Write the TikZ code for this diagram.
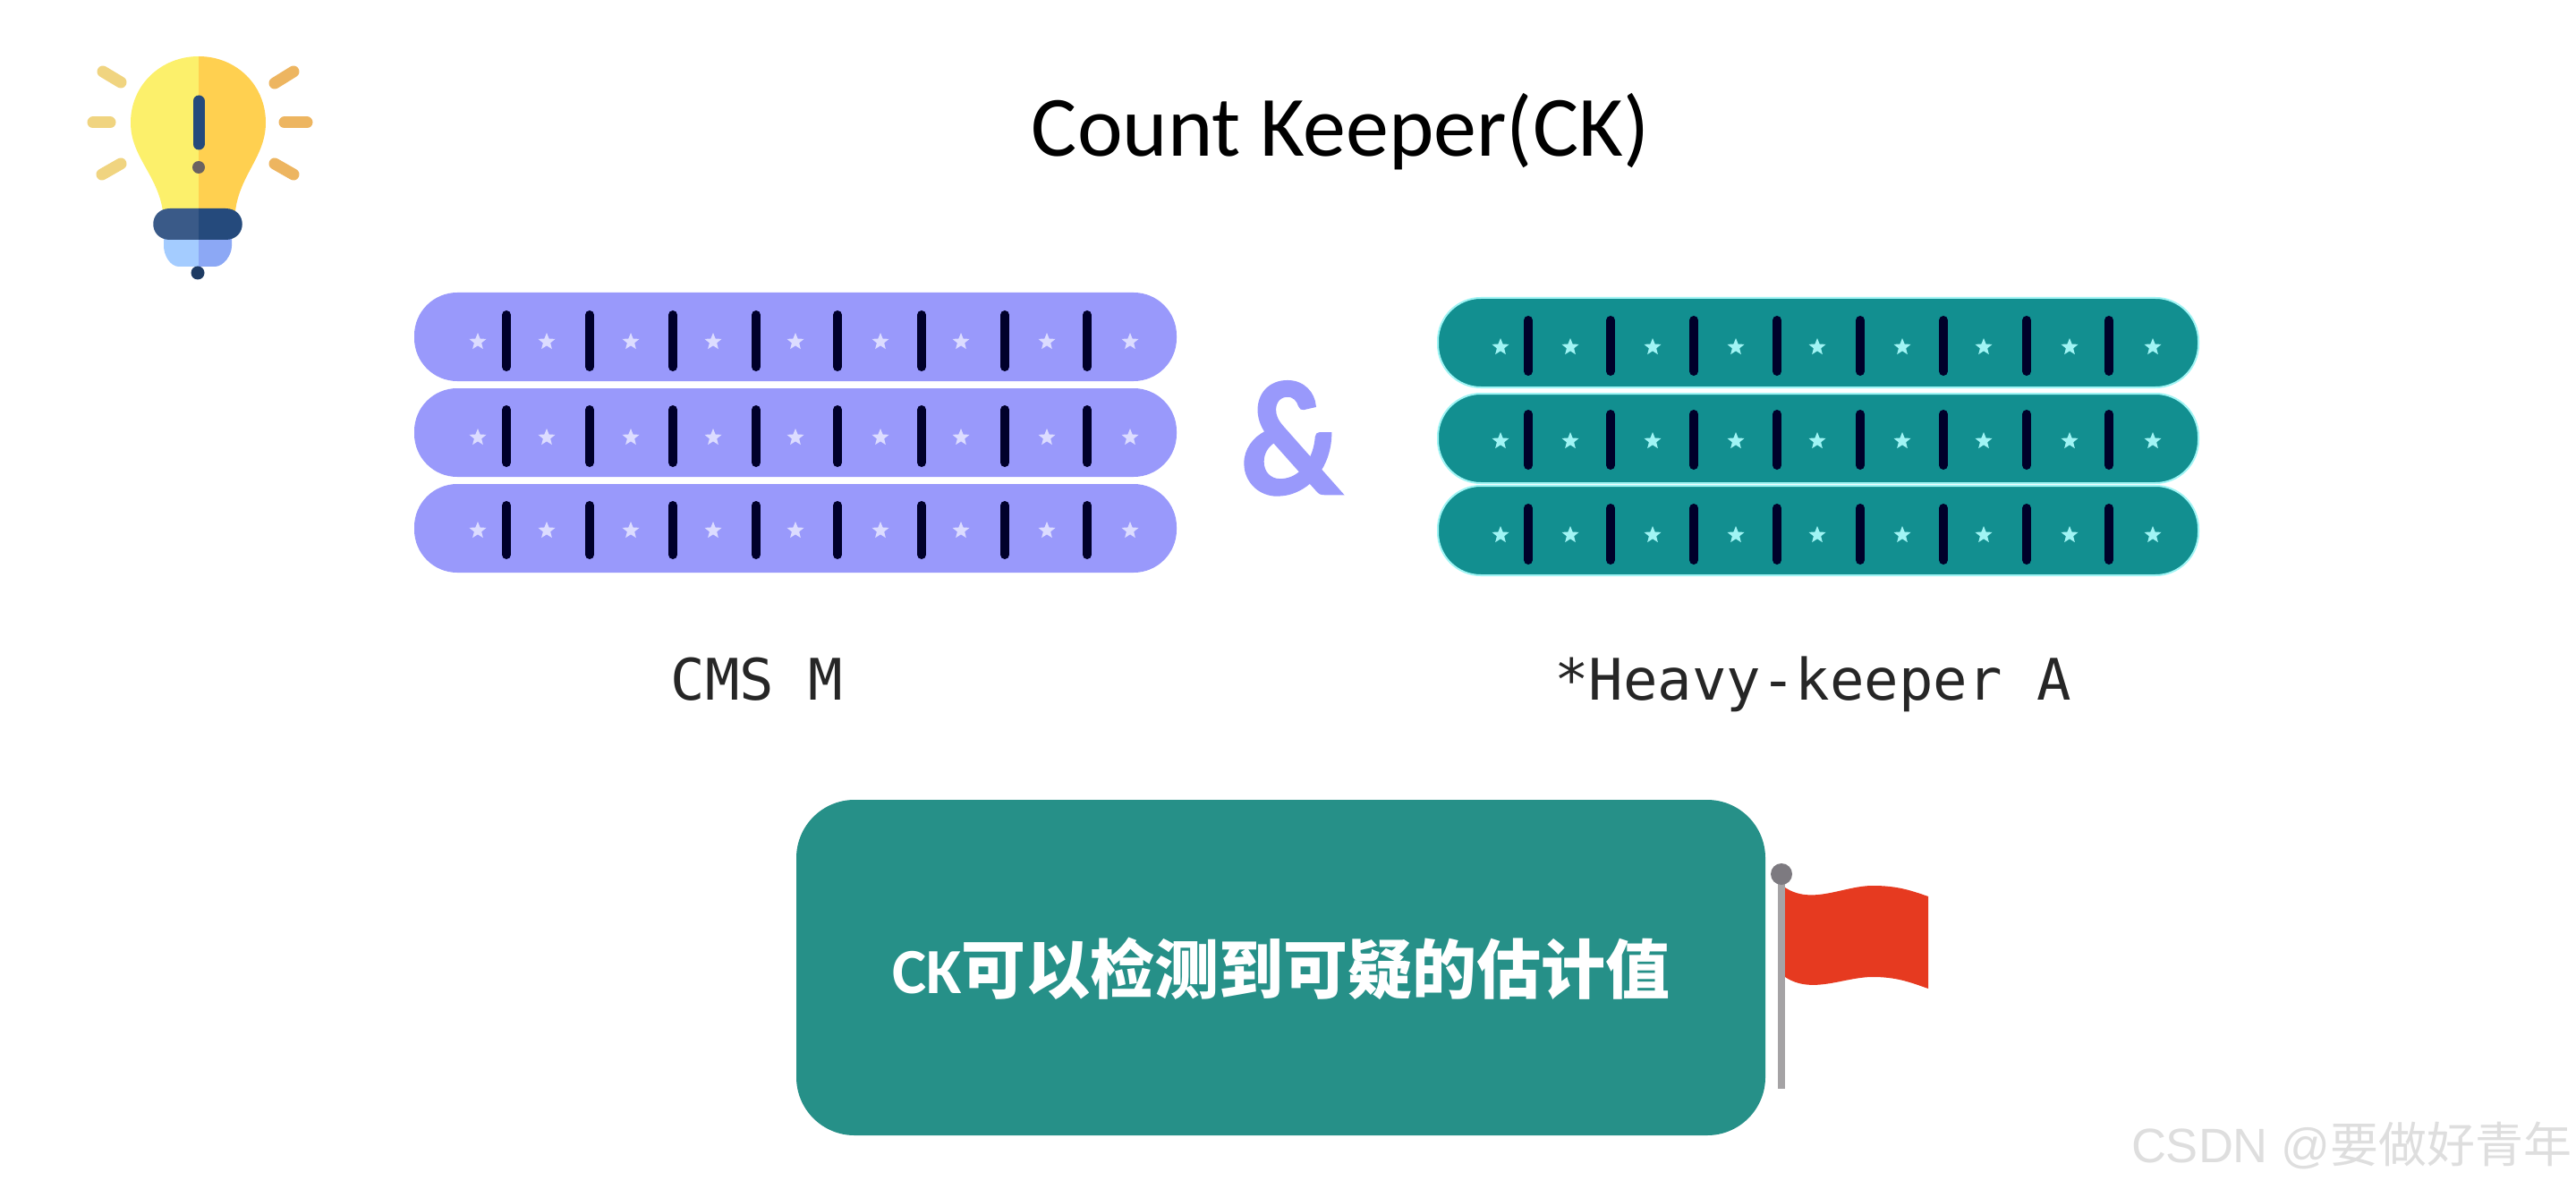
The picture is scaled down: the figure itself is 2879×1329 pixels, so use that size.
\documentclass[tikz,border=0pt]{standalone}
\usepackage{fontspec}
\usetikzlibrary{shapes.geometric}
\setmainfont{Carlito}
\newfontfamily\cjkfont{Noto Sans CJK SC}
\newfontfamily\monofont{DejaVu Sans Mono}
\newfontfamily\wmfont{Liberation Sans}
\newfontfamily\ampfont[BoldFeatures={FakeBold=1.5}]{Lato}
\definecolor{purplebar}{HTML}{9999FB}
\definecolor{purpleglow}{HTML}{DCDCFF}
\definecolor{tealbar}{HTML}{128F90}
\definecolor{tealglow}{HTML}{A0F4F4}
\definecolor{boxteal}{HTML}{269088}
\definecolor{sepdark}{HTML}{00002A}
\definecolor{bulbl}{HTML}{FCF06B}
\definecolor{bulbr}{HTML}{FFD050}
\definecolor{collarl}{HTML}{3A5A88}
\definecolor{collarr}{HTML}{254A7C}
\definecolor{basel}{HTML}{A4CCFF}
\definecolor{baser}{HTML}{8CA8F5}
\definecolor{rayl}{HTML}{F0D480}
\definecolor{rayr}{HTML}{EDB560}
\definecolor{flagred}{HTML}{E63A20}
\definecolor{polegray}{HTML}{A5A3A5}
\definecolor{ballgray}{HTML}{7D7A80}
\definecolor{wmgray}{HTML}{DEDEDE}
\tikzset{
  sepline/.style={draw=sepdark,line width=10pt,line cap=round},
  pstar/.style={star,star points=5,star point ratio=2.3,fill=purpleglow,inner sep=0pt,minimum size=20pt},
  tstar/.style={star,star points=5,star point ratio=2.3,fill=tealglow,inner sep=0pt,minimum size=20pt},
  rayleft/.style={draw=rayl,line width=13pt,line cap=round},
  rayright/.style={draw=rayr,line width=13pt,line cap=round}
}
\begin{document}
\begin{tikzpicture}[x=1pt,y=-1pt]
\useasboundingbox (0,0) rectangle (2879,1329);
\fill[white] (0,0) rectangle (2879,1329);
% bulb rays
\draw[rayleft] (115,80) -- (135,92);
\draw[rayleft] (104,137) -- (123,137);
\draw[rayleft] (114,195) -- (135,183);
\draw[rayright] (307,93) -- (328,80);
\draw[rayright] (318,137) -- (343,137);
\draw[rayright] (307,183) -- (328,195);
% bulb
\fill[bulbl] (222,63) .. controls (180,63) and (146,95) .. (146,137) .. controls (146,175) and (176,195) .. (182,236) -- (222,236) -- cycle;
\fill[bulbr] (222,63) .. controls (264,63) and (297,95) .. (297,137) .. controls (297,175) and (268,195) .. (263,236) -- (222,236) -- cycle;
\fill[basel] (183,262) -- (222,262) -- (222,298) -- (200,298) .. controls (190,298) and (183,285) .. (183,275) -- cycle;
\fill[baser] (222,262) -- (259,262) -- (259,275) .. controls (259,285) and (250,298) .. (240,298) -- (222,298) -- cycle;
\fill[collarl] (222,233) -- (190,233) .. controls (165,233) and (165,268) .. (190,268) -- (222,268) -- cycle;
\fill[collarr] (222,233) -- (252,233) .. controls (277,233) and (277,268) .. (252,268) -- (222,268) -- cycle;
\fill[collarr!80!black] (221,305) circle (7.5);
\draw[collarr,line width=13pt,line cap=round] (222,113) -- (222,161);
\fill[collarr!55!brown] (222,187) circle (7);
% title
\node[font=\fontsize{96}{100}\selectfont,text=black] (title) at (1498,147) {Count Keeper(CK)};
% purple rows
\foreach \top/\sa/\sb/\st [count=\r] in {327/347/415/382,434/453/522/489,541/560/625/593}{
  \fill[purplebar,rounded corners=48pt] (463,\top) rectangle (1315,\top+99);
  \foreach \x in {566,659,752,845,936,1030,1123,1215}{
    \draw[sepline] (\x,\sa+5) -- (\x,\sb-5);
  }
  \foreach \x [count=\i] in {534,611,705,797,889,984,1074,1170,1263}{
    \node[pstar] (p\r-\i) at (\x,\st) {};
  }
}
% ampersand
\node[font=\ampfont\bfseries\fontsize{172}{180}\selectfont,text=purplebar,inner sep=0pt,anchor=base,xscale=0.92] (amp) at (1443,552) {\&};
% teal rows
\foreach \top/\sa/\sb/\st [count=\r] in {333/353/420/388,440/458/525/493,543/563/631/598}{
  \filldraw[fill=tealbar,draw=tealglow,line width=2pt,rounded corners=48pt] (1607,\top) rectangle (2457,\top+100);
  \foreach \x in {1708,1800,1893,1986,2079,2172,2265,2357}{
    \draw[sepline] (\x,\sa+5) -- (\x,\sb-5);
  }
  \foreach \x [count=\i] in {1677,1755,1847,1940,2031,2126,2217,2313,2406}{
    \node[tstar] (t\r-\i) at (\x,\st) {};
  }
}
% labels
\node[font=\monofont\fontsize{64}{70}\selectfont,text=black!85,anchor=base] (cms) at (846,782) {CMS M};
\node[font=\monofont\fontsize{64}{70}\selectfont,text=black!85,anchor=base] (hk) at (2026,782) {*Heavy-keeper A};
% message box
\node[draw=none,fill=boxteal,rounded corners=65pt,minimum width=1083pt,minimum height=375pt,inner sep=0pt] (box) at (1431.5,1081.5) {};
\node[text=white,inner sep=0pt,font=\bfseries] (msg) at (1432,1083) {\fontsize{72}{80}\selectfont CK\cjkfont\fontsize{72}{80}\selectfont 可以检测到可疑的估计值};
% flag
\fill[flagred] (1995,992) .. controls (2025,1012) and (2060,990) .. (2093,990) .. controls (2120,990) and (2135,995) .. (2155,1002) -- (2155,1105) .. controls (2135,1098) and (2120,1092) .. (2093,1092) .. controls (2060,1092) and (2025,1112) .. (1995,1092) -- cycle;
\draw[draw=polegray,line width=8pt] (1991,977) -- (1991,1217);
\fill[ballgray] (1991,977) circle (12);
% watermark
\node[anchor=east,inner sep=0pt,text=wmgray,font=\wmfont\fontsize{54}{60}\selectfont] (wm) at (2875,1280) {CSDN @{\cjkfont 要做好青年}};
\end{tikzpicture}
\end{document}
